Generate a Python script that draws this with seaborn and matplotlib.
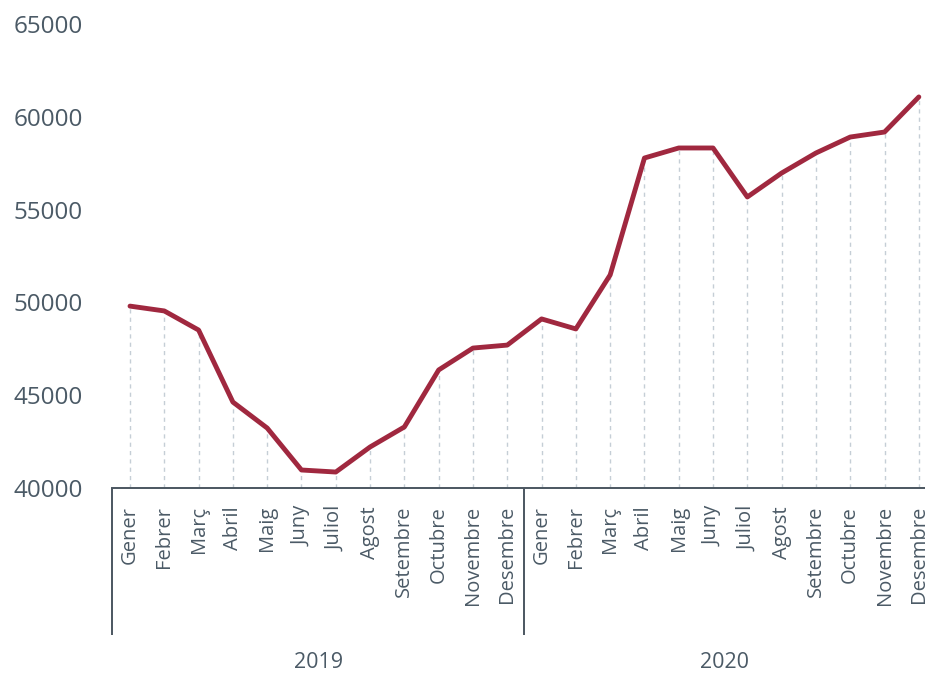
import pandas as pd
import matplotlib.pyplot as plt
import matplotlib.transforms as mtransforms
import seaborn as sns

# Data
months = ["Gener", "Febrer", "Març", "Abril", "Maig", "Juny", "Juliol",
          "Agost", "Setembre", "Octubre", "Novembre", "Desembre"]
years = ["2019", "2020"]
values_2019 = [49800, 49540, 48510, 44630, 43230, 40970,
               40860, 42210, 43290, 46360, 47540, 47700]
values_2020 = [49110, 48570, 51480, 57780, 58320, 58320,
               55680, 56970, 58050, 58910, 59180, 61070]

df = pd.DataFrame({
    "pos": range(24),
    "month": months * 2,
    "year": [years[0]] * 12 + [years[1]] * 12,
    "value": values_2019 + values_2020,
})

sns.set_style("white")
plt.rcParams["font.family"] = ["Open Sans", "DejaVu Sans"]

text_color = "#4b5a66"
line_color = "#a0283f"
axis_color = "#4b5660"

fig = plt.figure(figsize=(9.25, 6.75), dpi=100)
ax = fig.add_axes([112 / 925, 1 - 488 / 675, 1 - 112 / 925, 464 / 675])

# Dashed drop lines from each point to the axis
ax.vlines(df["pos"], 40000, df["value"], colors="#c5ced6",
          linestyles=(0, (3, 3)), linewidth=1, zorder=1)

sns.lineplot(data=df, x="pos", y="value", color=line_color,
             linewidth=3.5, ax=ax, zorder=3)
ax.lines[-1].set_solid_capstyle("round")

ax.set_xlim(-0.525, 23.18)
ax.set_ylim(40000, 65000)
ax.set_yticks(range(40000, 65001, 5000))
ax.set_yticklabels([str(v) for v in range(40000, 65001, 5000)])
ax.set_xticks(df["pos"])
ax.set_xticklabels(df["month"], rotation=90, va="top", ha="center")
ax.set_xlabel("")
ax.set_ylabel("")

ax.tick_params(axis="y", length=0, pad=21, labelsize=17.5, labelcolor=text_color)
ax.tick_params(axis="x", length=0, pad=13, labelsize=14.5, labelcolor=text_color)

for side in ["left", "right", "top"]:
    ax.spines[side].set_visible(False)
ax.spines["bottom"].set_color(axis_color)
ax.spines["bottom"].set_linewidth(1.4)

# Year group separators and labels
trans = mtransforms.blended_transform_factory(ax.transData, ax.transAxes)
sep_bottom = -147 / 464
for xs in [-0.525, 11.5]:
    ax.plot([xs, xs], [0, sep_bottom], transform=trans, color=axis_color,
            linewidth=1.4, clip_on=False, solid_capstyle="butt")

centers = [(-0.525 + 11.5) / 2, (11.5 + 23.18) / 2]
for c, yr in zip(centers, years):
    ax.text(c, -175 / 464, yr, transform=trans, ha="center", va="center",
            fontsize=15.5, color=text_color)

plt.savefig("out.png", dpi=100)
